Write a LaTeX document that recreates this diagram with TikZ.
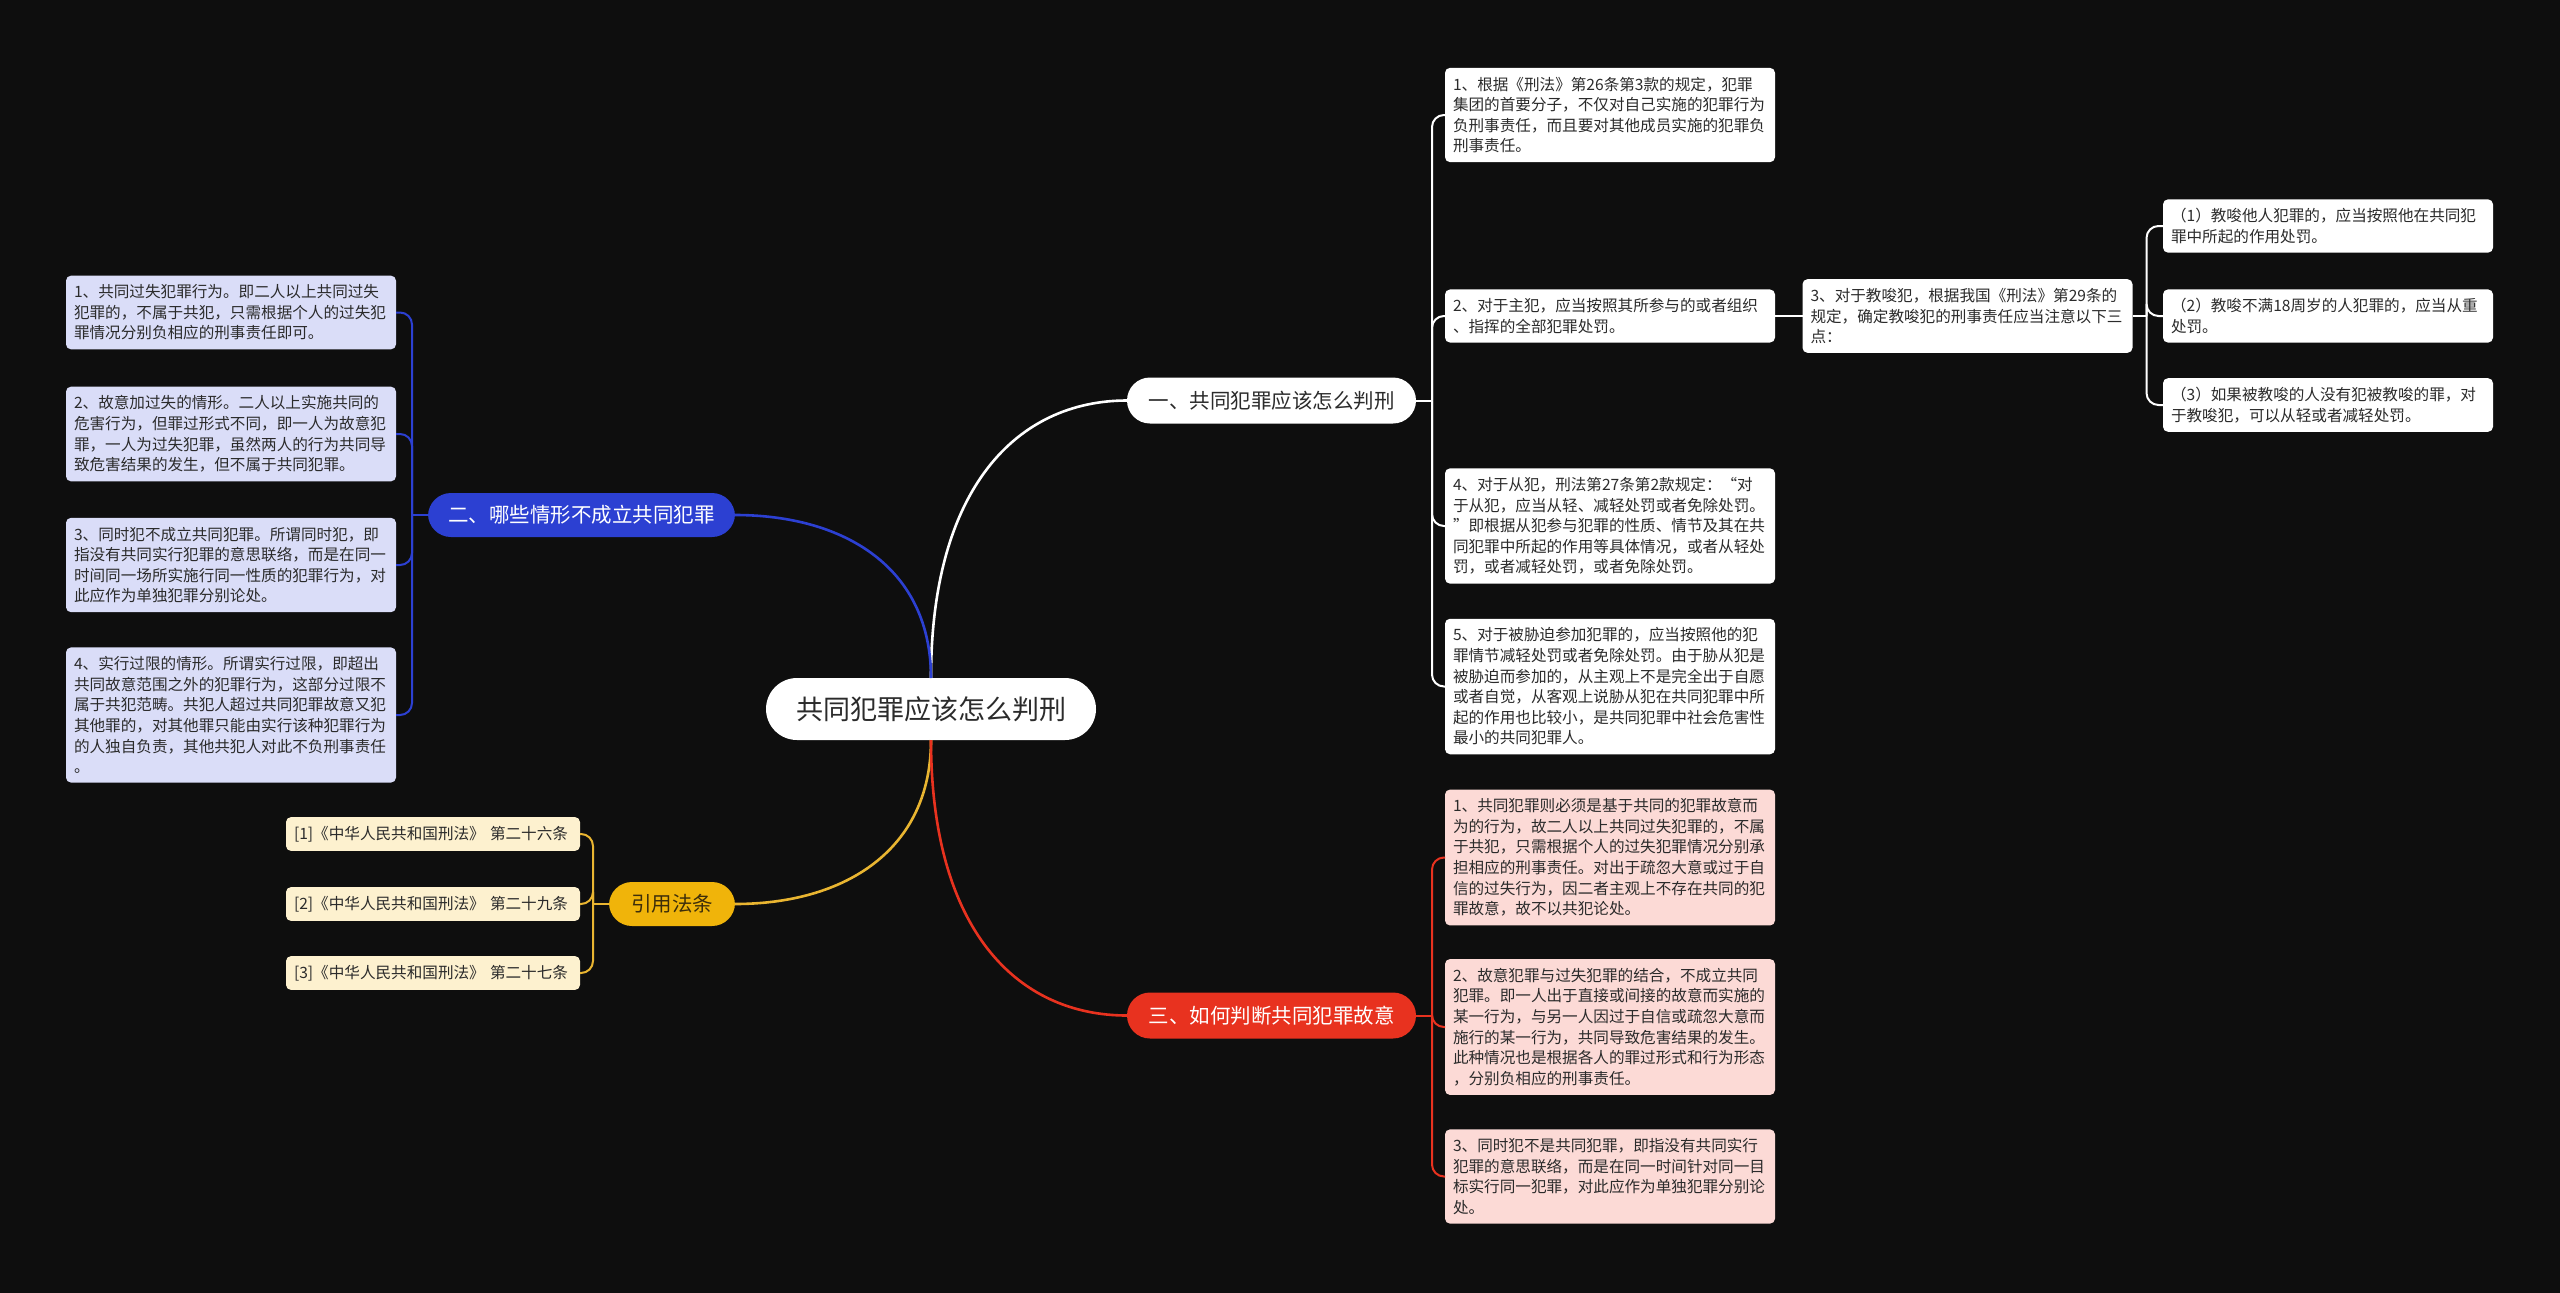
\documentclass[tikz,border=0pt]{standalone}
\usepackage{fontspec}
\setmainfont{Noto Sans CJK SC}
\usetikzlibrary{positioning}

\definecolor{bgdark}{HTML}{0E0E0E}
\definecolor{inkdark}{HTML}{2B2B2B}
\definecolor{bluemain}{HTML}{2C40D2}
\definecolor{bluesoft}{HTML}{DADDF8}
\definecolor{goldmain}{HTML}{F0B40A}
\definecolor{goldline}{HTML}{E9B531}
\definecolor{goldsoft}{HTML}{FDF1CF}
\definecolor{goldink}{HTML}{3D2E0A}
\definecolor{redmain}{HTML}{E8321F}
\definecolor{redsoft}{HTML}{FCDAD6}

\begin{document}
\begin{tikzpicture}[x=1pt, y=-1pt, every node/.style={inner sep=0pt, outer sep=0pt},
  rootnode/.style={fill=white, text=inkdark, minimum width=330pt, minimum height=62pt, rounded corners=31pt, font=\fontsize{27}{32}\selectfont},
  topic/.style={minimum height=46pt, rounded corners=23pt, font=\fontsize{20.5}{24}\selectfont},
  leaf/.style={rounded corners=5pt, text width=314pt, inner xsep=8pt, inner ysep=9pt, align=left, text=inkdark, font=\fontsize{15.6}{20.6}\selectfont},
  link/.style={line width=2.6pt},
  brace/.style={line width=2pt, rounded corners=12pt}]
	\fill[bgdark] (0,0) rectangle (2560,1293);
	\useasboundingbox (0,0) rectangle (2560,1293);
	% centre and main topics
	\node[rootnode] (root) at (931,709) {共同犯罪应该怎么判刑};
	\node[topic, fill=white, text=inkdark, minimum width=289pt] (one) at (1271.5,400.5) {一、共同犯罪应该怎么判刑};
	\node[topic, fill=bluemain, text=white, minimum width=307pt, minimum height=44pt] (two) at (581.5,515) {二、哪些情形不成立共同犯罪};
	\node[topic, fill=goldmain, text=goldink, minimum width=126pt, minimum height=44pt] (cite) at (672,904) {引用法条};
	\node[topic, fill=redmain, text=white, minimum width=289pt] (four) at (1271.5,1015.5) {三、如何判断共同犯罪故意};
	% branch one
	\node[leaf, fill=white] (c1) at (1610,115) {1、根据《刑法》第26条第3款的规定，犯罪\\集团的首要分子，不仅对自己实施的犯罪行为\\负刑事责任，而且要对其他成员实施的犯罪负\\刑事责任。};
	\node[leaf, fill=white] (c2) at (1610,316) {2、对于主犯，应当按照其所参与的或者组织\\、指挥的全部犯罪处罚。};
	\node[leaf, fill=white] (c3) at (1967.5,316) {3、对于教唆犯，根据我国《刑法》第29条的\\规定，确定教唆犯的刑事责任应当注意以下三\\点：};
	\node[leaf, fill=white] (d1) at (2328,226) {（1）教唆他人犯罪的，应当按照他在共同犯\\罪中所起的作用处罚。};
	\node[leaf, fill=white] (d2) at (2328,316) {（2）教唆不满18周岁的人犯罪的，应当从重\\处罚。};
	\node[leaf, fill=white] (d3) at (2328,405) {（3）如果被教唆的人没有犯被教唆的罪，对\\于教唆犯，可以从轻或者减轻处罚。};
	\node[leaf, fill=white] (c4) at (1610,526) {4、对于从犯，刑法第27条第2款规定：“对\\于从犯，应当从轻、减轻处罚或者免除处罚。\\”即根据从犯参与犯罪的性质、情节及其在共\\同犯罪中所起的作用等具体情况，或者从轻处\\罚，或者减轻处罚，或者免除处罚。};
	\node[leaf, fill=white] (c5) at (1610,686.5) {5、对于被胁迫参加犯罪的，应当按照他的犯\\罪情节减轻处罚或者免除处罚。由于胁从犯是\\被胁迫而参加的，从主观上不是完全出于自愿\\或者自觉，从客观上说胁从犯在共同犯罪中所\\起的作用也比较小，是共同犯罪中社会危害性\\最小的共同犯罪人。};
	% branch two
	\node[leaf, fill=bluesoft] (b1) at (231,312.5) {1、共同过失犯罪行为。即二人以上共同过失\\犯罪的，不属于共犯，只需根据个人的过失犯\\罪情况分别负相应的刑事责任即可。};
	\node[leaf, fill=bluesoft] (b2) at (231,434) {2、故意加过失的情形。二人以上实施共同的\\危害行为，但罪过形式不同，即一人为故意犯\\罪，一人为过失犯罪，虽然两人的行为共同导\\致危害结果的发生，但不属于共同犯罪。};
	\node[leaf, fill=bluesoft] (b3) at (231,565) {3、同时犯不成立共同犯罪。所谓同时犯，即\\指没有共同实行犯罪的意思联络，而是在同一\\时间同一场所实施行同一性质的犯罪行为，对\\此应作为单独犯罪分别论处。};
	\node[leaf, fill=bluesoft] (b4) at (231,715) {4、实行过限的情形。所谓实行过限，即超出\\共同故意范围之外的犯罪行为，这部分过限不\\属于共犯范畴。共犯人超过共同犯罪故意又犯\\其他罪的，对其他罪只能由实行该种犯罪行为\\的人独自负责，其他共犯人对此不负刑事责任\\。};
	% cited articles
	\node[leaf, fill=goldsoft, text width=278pt] (y1) at (433,834) {[1]《中华人民共和国刑法》 第二十六条};
	\node[leaf, fill=goldsoft, text width=278pt] (y2) at (433,904) {[2]《中华人民共和国刑法》 第二十九条};
	\node[leaf, fill=goldsoft, text width=278pt] (y3) at (433,973) {[3]《中华人民共和国刑法》 第二十七条};
	% branch three
	\node[leaf, fill=redsoft] (r1) at (1610,857.5) {1、共同犯罪则必须是基于共同的犯罪故意而\\为的行为，故二人以上共同过失犯罪的，不属\\于共犯，只需根据个人的过失犯罪情况分别承\\担相应的刑事责任。对出于疏忽大意或过于自\\信的过失行为，因二者主观上不存在共同的犯\\罪故意，故不以共犯论处。};
	\node[leaf, fill=redsoft] (r2) at (1610,1027) {2、故意犯罪与过失犯罪的结合，不成立共同\\犯罪。即一人出于直接或间接的故意而实施的\\某一行为，与另一人因过于自信或疏忽大意而\\施行的某一行为，共同导致危害结果的发生。\\此种情况也是根据各人的罪过形式和行为形态\\，分别负相应的刑事责任。};
	\node[leaf, fill=redsoft] (r3) at (1610,1176.5) {3、同时犯不是共同犯罪，即指没有共同实行\\犯罪的意思联络，而是在同一时间针对同一目\\标实行同一犯罪，对此应作为单独犯罪分别论\\处。};
	% curves from the centre
	\draw[link, white] (root.north) .. controls +(0,-190) and +(-110,0) .. (one.west);
	\draw[link, bluemain] (root.north) .. controls +(0,-110) and +(110,0) .. (two.east);
	\draw[link, goldline] (root.south) .. controls +(0,110) and +(110,0) .. (cite.east);
	\draw[link, redmain] (root.south) .. controls +(0,190) and +(-110,0) .. (four.west);
	% brackets
	\draw[brace, white] (one.east) -- ++(16,0) coordinate (onet);
	\foreach \n in {c1,c2,c4,c5}
		\draw[brace, white] (onet) |- (\n.west);
	\draw[brace, white] (c2.east) -- (c3.west);
	\draw[brace, white] (c3.east) -- ++(14,0) coordinate (c3t);
	\foreach \n in {d1,d2,d3}
		\draw[brace, white] (c3t) |- (\n.west);
	\draw[brace, bluemain] (two.west) -- ++(-16,0) coordinate (twot);
	\foreach \n in {b1,b2,b3,b4}
		\draw[brace, bluemain] (twot) |- (\n.east);
	\draw[brace, goldline] (cite.west) -- ++(-16,0) coordinate (citet);
	\foreach \n in {y1,y2,y3}
		\draw[brace, goldline] (citet) |- (\n.east);
	\draw[brace, redmain] (four.east) -- ++(16,0) coordinate (fourt);
	\foreach \n in {r1,r2,r3}
		\draw[brace, redmain] (fourt) |- (\n.west);
\end{tikzpicture}
\end{document}
